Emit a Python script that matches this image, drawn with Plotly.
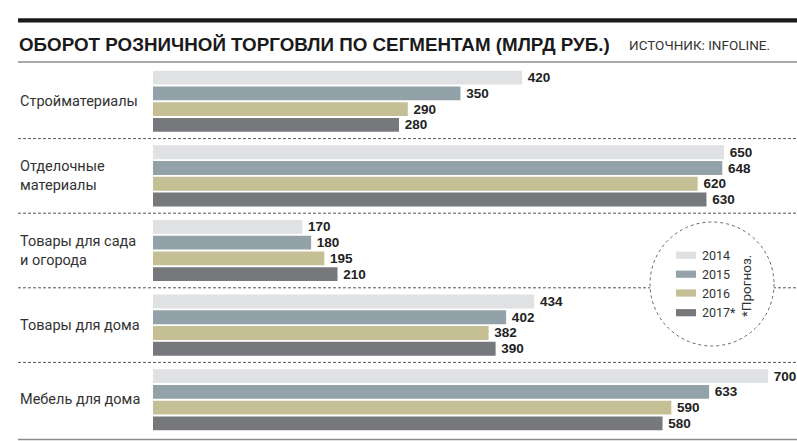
import plotly.graph_objects as go

categories = ["Стройматериалы", "Отделочные<br>материалы", "Товары для сада<br>и огорода",
              "Товары для дома", "Мебель для дома"]
years = ["2014", "2015", "2016", "2017*"]
v2014 = [420, 650, 170, 434, 700]
v2015 = [350, 648, 180, 402, 633]
v2016 = [290, 620, 195, 382, 590]
v2017 = [280, 630, 210, 390, 580]
series = [v2014, v2015, v2016, v2017]
colors = ["#e0e1e3", "#93a2a9", "#c4bf94", "#77787c"]
title_text = "ОБОРОТ РОЗНИЧНОЙ ТОРГОВЛИ ПО СЕГМЕНТАМ (МЛРД РУБ.)"
source_text = "ИСТОЧНИК: INFOLINE."
note_text = "*Прогноз."

W, H = 797, 441
ML, MR, MT, MB = 153, 0, 64, 4
PW, PH = W - ML - MR, H - MT - MB
SCALE = 0.8785  # px per unit


def px(x):
    return (x - ML) / PW


def py(y):
    return (H - MB - y) / PH


BOLD = "Liberation Sans, Arial, sans-serif"
REG = "Roboto, sans-serif"

fig = go.Figure()
for name, vals, col in zip(years, series, colors):
    fig.add_trace(go.Bar(
        y=categories, x=vals, orientation="h", name=name,
        marker=dict(color=col, line=dict(width=0)),
        text=vals, texttemplate="\u2009%{x}", textposition="outside",
        constraintext="none", cliponaxis=False, hoverinfo="skip",
        textfont=dict(family=BOLD, size=13.5, color="#222222", weight="bold"),
        showlegend=False,
    ))

shapes = []
shapes.append(dict(type="rect", xref="paper", yref="paper", x0=px(18), x1=px(797),
                   y0=py(18.3), y1=py(22.5), fillcolor="#1a1a1a", line=dict(width=0)))
shapes.append(dict(type="line", xref="paper", yref="paper", x0=px(18), x1=px(797),
                   y0=py(62), y1=py(62), line=dict(color="#8c8c8c", width=1.5)))
shapes.append(dict(type="line", xref="paper", yref="paper", x0=px(18), x1=px(797),
                   y0=py(439.5), y1=py(439.5), line=dict(color="#8c8c8c", width=1.5)))
for i in range(len(categories) - 1):
    shapes.append(dict(type="line", xref="paper", yref="y", x0=px(18), x1=px(797),
                       y0=i + 0.5, y1=i + 0.5,
                       line=dict(color="#555555", width=1, dash="3px,2px")))
cx, cy, r = 712, 284, 62
shapes.append(dict(type="circle", xref="paper", yref="paper",
                   x0=px(cx - r), x1=px(cx + r), y0=py(cy + r), y1=py(cy - r),
                   fillcolor="white", line=dict(color="#666666", width=1, dash="3px,3px"),
                   layer="above"))
annotations = []
leg_y = [255.3, 274.2, 293.0, 312.7]
for name, col, yy in zip(years, colors, leg_y):
    shapes.append(dict(type="rect", xref="paper", yref="paper", x0=px(676), x1=px(696),
                       y0=py(yy + 3.6), y1=py(yy - 3.6), fillcolor=col,
                       line=dict(width=0), layer="above"))
    annotations.append(dict(text=name, xref="paper", yref="paper", x=px(700), y=py(yy),
                            xanchor="left", yanchor="middle", showarrow=False,
                            font=dict(family=REG, size=12.5, color="#333333")))
annotations.append(dict(text=note_text, xref="paper", yref="paper", x=px(746), y=py(286),
                        textangle=-90, xanchor="center", yanchor="middle", showarrow=False,
                        font=dict(family=REG, size=13.5, color="#333333")))

annotations.append(dict(text="<b>" + title_text + "</b>", xref="paper", yref="paper",
                        x=px(17), y=py(44.5), xanchor="left", yanchor="middle",
                        showarrow=False, font=dict(family=BOLD, size=18.8, color="#1a1a1a")))
annotations.append(dict(text=source_text, xref="paper", yref="paper",
                        x=px(627), y=py(45), xanchor="left", yanchor="middle",
                        showarrow=False, font=dict(family=REG, size=13.5, color="#333333")))
for c in categories:
    annotations.append(dict(text=c, xref="paper", yref="y", x=px(18), y=c,
                            xanchor="left", yanchor="middle", align="left", showarrow=False,
                            font=dict(family=REG, size=14.5, color="#333333")))

fig.update_layout(
    width=W, height=H, margin=dict(l=ML, r=MR, t=MT, b=MB),
    paper_bgcolor="white", plot_bgcolor="white",
    barmode="group", bargap=0.155, bargroupgap=0.12,
    xaxis=dict(range=[0, PW / SCALE], visible=False, fixedrange=True),
    yaxis=dict(autorange="reversed", visible=False, fixedrange=True),
    shapes=shapes, annotations=annotations, showlegend=False,
)
fig.write_html("out.html", config={"displayModeBar": False, "staticPlot": True},
               post_script="document.body.style.margin='0';document.body.style.overflow='hidden';")
